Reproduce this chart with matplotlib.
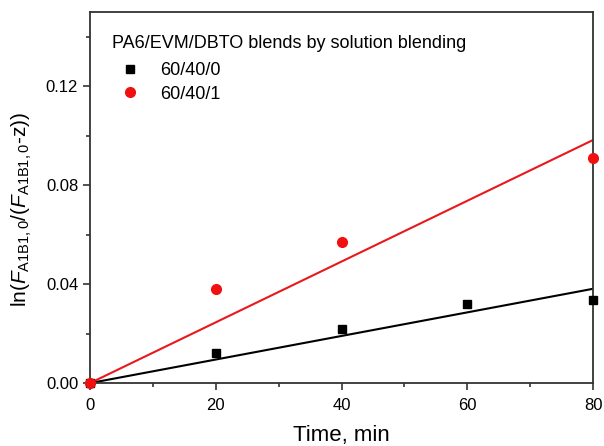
import numpy as np
import matplotlib
matplotlib.use("Agg")
import matplotlib.pyplot as plt
from matplotlib.ticker import MultipleLocator, FormatStrFormatter

plt.rcParams['font.family'] = ['Liberation Sans', 'DejaVu Sans']
plt.rcParams['mathtext.fontset'] = 'custom'
plt.rcParams['mathtext.rm'] = 'Liberation Sans'
plt.rcParams['mathtext.it'] = 'Liberation Sans:italic'

# measured ln(F/(F-z)) vs time
time_0 = np.array([0, 20, 40, 60, 80])
vals_0 = np.array([0.0, 0.012, 0.022, 0.032, 0.0335])
time_1 = np.array([0, 20, 40, 80])
vals_1 = np.array([0.0, 0.038, 0.057, 0.091])
labels = ['60/40/0', '60/40/1']


def slope_through_origin(x, y):
    return np.sum(x * y) / np.sum(x * x)


fig = plt.figure(figsize=(6.04, 4.46), dpi=100)
ax = fig.add_axes([0.149, 0.141, 0.833, 0.832])

xfit = np.array([0, 80])
k0 = slope_through_origin(time_0, vals_0)
k1 = slope_through_origin(time_1, vals_1)
ax.plot(xfit, k0 * xfit, color='black', lw=1.5, zorder=2)
ax.plot(xfit, k1 * xfit, color='#e8181c', lw=1.5, zorder=2)

ax.plot(time_0, vals_0, 's', color='black', ms=6, ls='none',
        label=labels[0], clip_on=False, zorder=3)
ax.plot(time_1, vals_1, 'o', color='#f01010', ms=7, ls='none',
        label=labels[1], clip_on=False, zorder=4)

ax.set_xlim(0, 80)
ax.set_ylim(0, 0.15)
ax.xaxis.set_major_locator(MultipleLocator(20))
ax.xaxis.set_minor_locator(MultipleLocator(10))
ax.yaxis.set_major_locator(MultipleLocator(0.04))
ax.yaxis.set_minor_locator(MultipleLocator(0.02))
ax.yaxis.set_major_formatter(FormatStrFormatter('%.2f'))
ax.tick_params(which='both', direction='out', width=1.2, colors='#333333',
               labelcolor='black', labelsize=12)
ax.tick_params(which='major', length=5)
ax.tick_params(which='minor', length=3)
ax.tick_params(axis='x', which='major', pad=6)
for s in ax.spines.values():
    s.set_linewidth(1.3)
    s.set_color('#333333')

ax.set_xlabel('Time, min', fontsize=16, labelpad=8)
ax.set_ylabel(r'ln($F_{\mathrm{A1B1,0}}$/($F_{\mathrm{A1B1,0}}$-z))',
              fontsize=15)
ax.yaxis.set_label_coords(-0.112, 0.469)

leg = ax.legend(title='PA6/EVM/DBTO blends by solution blending',
                loc='upper left', bbox_to_anchor=(0.043, 0.937),
                frameon=False, fontsize=13, title_fontsize=13,
                handletextpad=0.67, labelspacing=0.36, borderaxespad=0,
                borderpad=0)
leg._legend_box.align = 'left'
leg._legend_box.sep = 7

fig.savefig('out.png', dpi=100)
